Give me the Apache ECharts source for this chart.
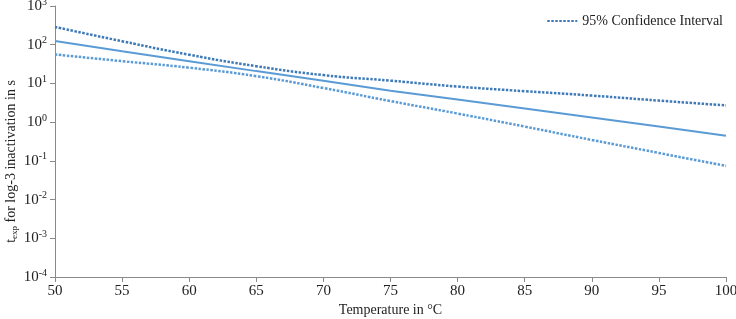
<!DOCTYPE html>
<html>
<head>
<meta charset="utf-8">
<script src="https://cdn.jsdelivr.net/npm/echarts@6/dist/echarts.min.js"></script>
<style>html,body{margin:0;padding:0;background:#fff}#c{width:736px;height:319px}</style>
</head>
<body>
<div id="c"></div>
<script>
var temps = [50, 55, 60, 65, 70, 75, 80, 85, 90, 95, 100];
var fitValues = [125, 68, 37.6, 20.8, 11.8, 6.5, 3.82, 2.24, 1.31, 0.77, 0.446];
var upperCI = [288, 123, 55, 27.9, 16.4, 11.8, 8.3, 6.3, 4.85, 3.6, 2.71];
var lowerCI = [56, 37.6, 25.5, 15.4, 7.6, 3.5, 1.67, 0.77, 0.346, 0.16, 0.074];
var xTicks = [50, 55, 60, 65, 70, 75, 80, 85, 90, 95, 100];
var yExponents = [-4, -3, -2, -1, 0, 1, 2, 3];
var legendLabel = '95% Confidence Interval';

function pairs(vals) { return temps.map(function (t, i) { return [t, vals[i]]; }); }

var font = '"Liberation Serif", "Times New Roman", serif';
var chart = echarts.init(document.getElementById('c'), null, {renderer: 'canvas'});
chart.setOption({
  animation: false,
  backgroundColor: '#fff',
  grid: {left: 55, right: 10, top: 6, bottom: 42, containLabel: false, outerBoundsMode: 'none'},
  legend: {
    data: [legendLabel],
    right: 8, top: 9,
    itemWidth: 30, itemHeight: 10, itemGap: 3,
    itemStyle: {opacity: 0},
    textStyle: {fontFamily: font, fontSize: 14, color: '#222'}
  },
  xAxis: {
    type: 'value', min: xTicks[0], max: xTicks[xTicks.length - 1], interval: 5,
    name: 'Temperature in °C', nameLocation: 'middle', nameGap: 26, nameMoveOverlap: false,
    nameTextStyle: {fontFamily: font, fontSize: 14, color: '#222'},
    axisLine: {lineStyle: {color: '#8a8a8a', width: 1}},
    axisTick: {show: true, length: 5, inside: false, lineStyle: {color: '#8a8a8a'}},
    axisLabel: {fontFamily: font, fontSize: 15, color: '#222', margin: 7},
    splitLine: {show: false}
  },
  yAxis: {
    type: 'log', logBase: 10, min: Math.pow(10, yExponents[0]), max: Math.pow(10, yExponents[yExponents.length - 1]),
    interval: 1,
    name: 't{sub|exp} for log-3 inactivation in s', nameLocation: 'middle', nameGap: 36, nameMoveOverlap: false,
    nameTextStyle: {
      fontFamily: font, fontSize: 14, color: '#222', padding: [0, 40, 0, 0],
      rich: {sub: {fontFamily: font, fontSize: 9, color: '#222', verticalAlign: 'bottom', padding: [6, 0, 0, 0]}}
    },
    axisLine: {show: true, lineStyle: {color: '#8a8a8a', width: 1}},
    axisTick: {show: true, length: 5, lineStyle: {color: '#8a8a8a'}},
    axisLabel: {
      fontFamily: font, fontSize: 15, color: '#222', margin: 8,
      formatter: function (v) {
        var e = Math.round(Math.log10(v));
        return '10{sup|' + e + '}';
      },
      rich: {sup: {fontFamily: font, fontSize: 10, color: '#222', verticalAlign: 'top', padding: [0, 0, 8, 0]}}
    },
    splitLine: {show: false},
    minorSplitLine: {show: false}
  },
  series: [
    {name: 'fit', type: 'line', data: pairs(fitValues), symbol: 'none', smooth: false,
     lineStyle: {color: '#5b9bd5', width: 2}, itemStyle: {color: '#5b9bd5'}},
    {name: legendLabel, type: 'line', data: pairs(upperCI), symbol: 'none', smooth: true,
     lineStyle: {color: '#3f7ab8', width: 2.5, type: [2.5, 1.5]}, itemStyle: {color: '#3f7ab8'}},
    {name: 'lower', type: 'line', data: pairs(lowerCI), symbol: 'none', smooth: true,
     lineStyle: {color: '#5b9bd5', width: 2.5, type: [2.5, 1.5]}, itemStyle: {color: '#5b9bd5'}}
  ]
});
</script>
</body>
</html>
